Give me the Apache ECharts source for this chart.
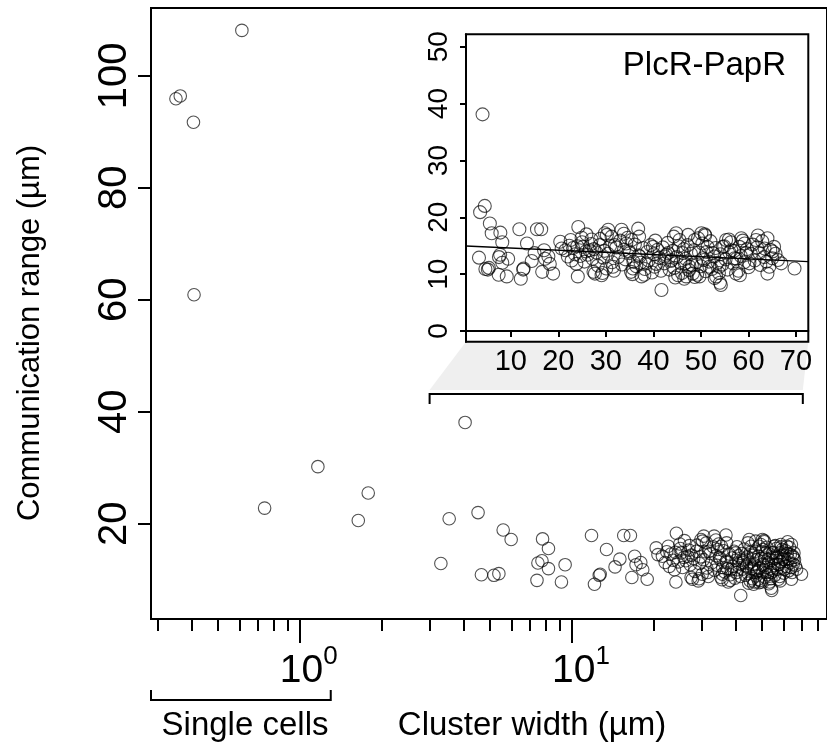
<!DOCTYPE html>
<html><head><meta charset="utf-8">
<script src="https://cdn.jsdelivr.net/npm/echarts@6/dist/echarts.min.js"></script>
<style>html,body{margin:0;padding:0;background:#fff}#c{width:827px;height:749px}</style>
</head><body><div id="c"></div>
<script>
// ---------- data ----------
const singleCellPoints = [
  [0.351,95.9],[0.364,96.4],[0.407,91.7],[0.409,60.9],[0.613,108.1],
  [0.743,22.8],[1.166,30.2],[1.641,20.6],[1.785,25.5]
];
const clusterPoints = [
  [3.30,12.9],[3.54,20.9],[4.05,38.1],[4.52,22.0],[4.65,10.9],[5.17,10.8],[5.39,11.1],[5.59,18.9],[5.98,17.2],
  [7.44,9.9],[7.5,13.0],[7.76,13.4],[7.80,17.3],[8.2,15.6],[8.2,12.0],[9.15,9.6],[9.44,12.7],[11.8,17.9],
  [12.1,9.2],[12.6,10.8],[12.7,11.0],[13.4,15.4],[14.4,12.3],[15.0,13.7],[15.5,17.9],[16.4,17.9],[16.6,10.4],
  [17.0,14.2],[17.2,12.7],[17.9,13.1],[18.2,11.8],[18.9,10.1],[20.4,15.7],
  [20.7,14.5],[24.2,18.3],[24.1,9.6],[25.9,17.0],[25.2,14.8],[26.6,14.2],[27.7,10.1],[28.7,15.1],[29.1,9.8],
  [29.8,17.2],[30.5,17.8],[31.2,16.6],[31.5,11.3],[31.9,15.1],[33.3,17.8],[34.3,15.4],[35.0,13.7],[35.4,16.0],
  [36.8,18.0],[35.7,11.0],[37.1,13.1],[37.5,9.6],[38.5,11.9],[39.9,14.8],[40.3,11.3],[41.7,7.2],[42.4,13.1],
  [43.1,13.7],[43.8,12.5],[44.8,17.2],[45.2,9.8],[45.5,16.0],[46.2,13.7],[46.6,11.9],[46.9,9.6],[47.6,11.3],
  [48.3,10.1],[48.7,16.0],[49.4,16.3],[50.1,17.2],[50.8,17.0],[49.7,9.6],[50.4,12.8],[51.4,14.8],[51.8,11.3],
  [52.5,13.7],[53.2,9.6],[54.2,8.1],[53.9,11.3],[54.6,14.8],[55.3,16.0],[56.4,14.2],[57.1,12.8],[57.4,10.1],
  [58.1,14.8],[59.2,15.4],[59.5,13.7],[60.2,11.9],[61.6,16.0],[62.3,13.7],[63.4,14.5],[64.0,16.3],[64.0,10.1],
  [64.4,11.3],[65.1,14.0],[65.4,14.8],[66.9,11.9],[69.7,11.0],
  [21.5,14.2],[22.0,13.1],[22.3,15.0],[22.8,12.4],[23.1,14.6],[23.5,13.5],[23.8,11.8],[24.0,14.9],[24.6,13.2],
  [25.0,15.6],[25.5,12.2],[25.8,14.0],[26.2,13.4],[26.9,15.3],[27.2,12.7],[27.5,14.4],[28.0,13.8],[28.3,11.5],
  [28.8,16.2],[29.4,12.9],[29.7,14.1],[30.1,11.0],[30.4,13.6],[30.9,15.0],[31.3,12.1],[31.7,10.6],[32.2,14.7],
  [32.6,13.0],[33.0,15.9],[33.4,11.7],[33.8,14.3],[34.1,12.6],[34.6,16.4],[34.9,14.0],[35.3,10.4],[35.8,12.2],
  [36.1,15.2],[36.4,11.4],[36.9,13.3],[37.3,12.0],[37.8,14.6],[38.2,10.9],[38.7,13.9],[39.0,12.4],[39.4,15.1],
  [39.7,10.3],[40.1,13.5],[40.6,11.8],[40.9,14.3],[41.2,12.9],[41.6,10.6],[42.0,14.7],[42.3,11.9],[42.7,13.4],
  [43.0,15.5],[43.4,10.8],[43.7,12.3],[44.1,14.1],[44.4,11.1],[44.9,13.0],[45.3,14.9],[45.7,12.0],[46.0,10.2],
  [46.4,14.4],[46.8,12.7],[47.2,15.1],[47.5,10.7],[47.9,13.6],[48.1,11.6],[48.5,14.2],[48.9,12.1],[49.2,9.9],
  [49.6,13.8],[50.0,11.4],[50.3,15.4],[50.6,12.5],[51.0,10.5],[51.2,13.9],[51.7,12.2],[52.0,15.8],[52.3,10.9],
  [52.8,13.1],[53.1,14.6],[53.5,12.0],[53.8,10.2],[54.1,13.5],[54.5,11.7],[54.9,14.9],[55.2,12.6],[55.6,10.8],
  [56.0,13.8],[56.3,15.6],[56.7,11.9],[57.0,14.1],[57.5,12.7],[57.9,10.6],[58.4,13.2],[58.8,15.9],[59.1,12.1],
  [59.7,14.4],[60.0,11.2],[60.5,13.6],[60.9,15.2],[61.3,12.4],[61.8,14.7],[62.5,11.6],[62.9,15.8],[63.3,13.0],
  [63.8,12.2],[64.6,14.3],[65.0,12.8],[65.7,13.6],[66.2,12.5],[62.0,16.8],[58.5,16.3],[55.9,16.1],[50.9,16.8],
  [47.3,16.9],[44.3,16.6],[40.4,15.9],[37.0,16.6],[33.8,17.1],[30.2,16.9],[27.0,16.1],[24.9,16.4],[22.6,16.0],
  [44.6,9.4],[46.5,9.2],[48.7,9.5],[52.9,9.3],[54.0,8.5],[58.2,9.8],[38.1,9.9],[35.6,10.0],[29.3,10.2],[27.4,10.4]
];
const fitWidth = [0.57, 72.6];
const fitRange = [14.95, 12.2];
const mainYTicks = [20, 40, 60, 80, 100];
const mainXMajor = [1, 10];
const mainXMinor = [0.3,0.4,0.5,0.6,0.7,0.8,0.9,2,3,4,5,6,7,8,9,20,30,40,50,60,70,80];
const insetXTicks = [10, 20, 30, 40, 50, 60, 70];
const insetYTicks = [0, 10, 20, 30, 40, 50];
const singleCellSpan = [0.2842, 1.3];
const clusterSpan = [3.0, 70.5];
const insetTitle = 'PlcR-PapR';

// ---------- layout ----------
const FONT = 'Liberation Sans, Arial, Helvetica, sans-serif';
const MAIN = {left: 151, top: 8, width: 681.3, height: 611};
const MAIN_X = [0.2842, 86.5], MAIN_Y = [3.0, 112.1];
const INSET = {left: 466, top: 34.3, width: 342.3, height: 307.4};
const INSET_X = [0.57, 72.6], INSET_Y = [-1.88, 52.18];

const pointStyle = {color: 'rgba(0,0,0,0)', borderColor: 'rgba(0,0,0,0.85)', borderWidth: 1.1};
const black = '#000';

const chart = echarts.init(document.getElementById('c'), null, {renderer: 'canvas'});
const option = {
  animation: false,
  backgroundColor: '#fff',
  grid: [
    Object.assign({show: true, borderColor: black, borderWidth: 2, backgroundColor: 'transparent', containLabel: false}, MAIN),
    Object.assign({show: true, borderColor: black, borderWidth: 2, backgroundColor: '#fff', containLabel: false, z: 3}, INSET)
  ],
  xAxis: [
    {type: 'log', logBase: 10, gridIndex: 0, min: MAIN_X[0], max: MAIN_X[1], position: 'bottom',
     axisLine: {show: true, lineStyle: {color: black, width: 2}},
     axisTick: {show: true, customValues: mainXMajor, length: 24, lineStyle: {color: black, width: 2}},
     axisLabel: {show: true, customValues: mainXMajor, margin: 24, padding: [0,0,0,18],
       formatter: v => '{b|10}{s|' + Math.round(Math.log10(v)) + '}',
       rich: {b: {fontSize: 39, lineHeight: 56, fontFamily: FONT, color: black},
              s: {fontSize: 26, lineHeight: 26, padding: [0,0,29,0], fontFamily: FONT, color: black}}},
     splitLine: {show: false}},
    {type: 'log', logBase: 10, gridIndex: 0, min: MAIN_X[0], max: MAIN_X[1], position: 'bottom',
     axisLine: {show: false},
     axisTick: {show: true, customValues: mainXMinor, length: 12, lineStyle: {color: black, width: 2}},
     axisLabel: {show: false}, splitLine: {show: false}},
    {type: 'value', gridIndex: 1, min: INSET_X[0], max: INSET_X[1], position: 'bottom', z: 10,
     axisLine: {show: true, lineStyle: {color: black, width: 2}},
     axisTick: {show: true, customValues: insetXTicks, length: 6, lineStyle: {color: black, width: 2}},
     axisLabel: {show: true, customValues: insetXTicks, margin: 5, fontSize: 29, lineHeight: 30, fontFamily: FONT, color: black},
     splitLine: {show: false}}
  ],
  yAxis: [
    {type: 'value', gridIndex: 0, min: MAIN_Y[0], max: MAIN_Y[1],
     axisLine: {show: true, lineStyle: {color: black, width: 2}},
     axisTick: {show: true, customValues: mainYTicks, length: 13, lineStyle: {color: black, width: 2}},
     axisLabel: {show: true, customValues: mainYTicks, rotate: 90, margin: 16, fontSize: 40, lineHeight: 40, fontFamily: FONT, color: black},
     splitLine: {show: false}},
    {type: 'value', gridIndex: 1, min: INSET_Y[0], max: INSET_Y[1], z: 10,
     axisLine: {show: true, lineStyle: {color: black, width: 2}},
     axisTick: {show: true, customValues: insetYTicks, length: 6, lineStyle: {color: black, width: 2}},
     axisLabel: {show: true, customValues: insetYTicks, rotate: 90, margin: 13, fontSize: 28, lineHeight: 28, fontFamily: FONT, color: black},
     splitLine: {show: false}}
  ],
  series: [
    {type: 'custom', xAxisIndex: 0, yAxisIndex: 0, silent: true, z: 1, clip: false,
     data: [[singleCellSpan[0], MAIN_Y[0]]],
     renderItem: function (params, api) {
       const a = api.coord([singleCellSpan[0], MAIN_Y[0]]);
       const b = api.coord([singleCellSpan[1], MAIN_Y[0]]);
       const c = api.coord([clusterSpan[0], MAIN_Y[0]]);
       const d = api.coord([clusterSpan[1], MAIN_Y[0]]);
       const yb = a[1] + 81;
       const insetBottom = INSET.top + INSET.height;
       const zoomY = 390, brY = 394;
       return {type: 'group', children: [
         {type: 'polyline', shape: {points: [[a[0], yb - 10], [a[0], yb], [b[0], yb], [b[0], yb - 10]]},
          style: {stroke: black, lineWidth: 2, fill: null}},
         {type: 'polygon', shape: {points: [[INSET.left, insetBottom], [INSET.left + INSET.width, insetBottom], [d[0], zoomY], [c[0], zoomY]]},
          style: {fill: '#efefef', stroke: null}},
         {type: 'polyline', shape: {points: [[c[0], brY + 10], [c[0], brY], [d[0], brY], [d[0], brY + 10]]},
          style: {stroke: black, lineWidth: 2, fill: null}}
       ]};
     }},
    {type: 'scatter', xAxisIndex: 0, yAxisIndex: 0, symbol: 'circle', symbolSize: 12.5,
     data: singleCellPoints.concat(clusterPoints), itemStyle: pointStyle, silent: true, z: 2},
    {type: 'scatter', xAxisIndex: 2, yAxisIndex: 1, symbol: 'circle', symbolSize: 13,
     data: clusterPoints, itemStyle: pointStyle, silent: true, z: 5},
    {type: 'line', xAxisIndex: 2, yAxisIndex: 1, showSymbol: false, symbol: 'none', silent: true, z: 6,
     data: fitWidth.map((w, i) => [w, fitRange[i]]), lineStyle: {color: black, width: 1.3}}
  ],
  graphic: [
    {type: 'text', x: 30, y: 333, rotation: Math.PI / 2, silent: true,
     style: {text: 'Communication range (µm)', font: '31px ' + FONT, fill: black, align: 'center', verticalAlign: 'middle'}},
    {type: 'text', x: 245, y: 726, silent: true,
     style: {text: 'Single cells', font: '33px ' + FONT, fill: black, align: 'center', verticalAlign: 'middle'}},
    {type: 'text', x: 532, y: 726, silent: true,
     style: {text: 'Cluster width (µm)', font: '33px ' + FONT, fill: black, align: 'center', verticalAlign: 'middle'}},
    {type: 'text', x: 786, y: 66, silent: true, z: 20,
     style: {text: insetTitle, font: '33px ' + FONT, fill: black, align: 'right', verticalAlign: 'middle'}}
  ]
};
chart.setOption(option);
</script>
</body></html>
